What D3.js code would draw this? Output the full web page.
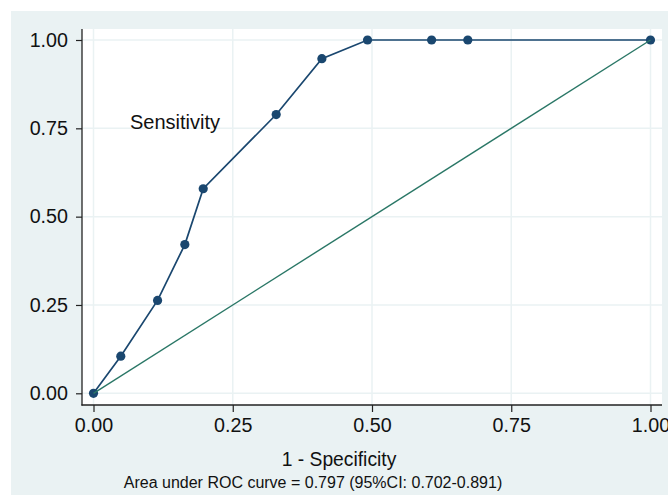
<!DOCTYPE html>
<meta charset="utf-8">
<body style="margin:0;background:#fff">
<svg width="668" height="495"></svg>
<script src="https://cdn.jsdelivr.net/npm/d3@7"></script>
<script>
  // ROC points
  const fpr = [0, 0.049, 0.115, 0.164, 0.197, 0.328, 0.410, 0.492, 0.607, 0.672, 1];
  const sens = [0, 0.105, 0.263, 0.421, 0.579, 0.789, 0.947, 1, 1, 1, 1];
  const ticks = [0, 0.25, 0.5, 0.75, 1];
  const refLine = [[0, 0], [1, 1]];

  const svg = d3.select("svg");
  const font = "'Liberation Sans', Arial, sans-serif";

  // outer graph region
  svg.append("rect").attr("x", 11).attr("y", 11).attr("width", 657).attr("height", 484)
    .attr("fill", "#eaf2f3");
  // plot region
  svg.append("rect").attr("x", 82).attr("y", 29).attr("width", 580).attr("height", 376)
    .attr("fill", "#fff");

  const x = d3.scaleLinear().domain([0, 1]).range([93.5, 650.5]);
  const y = d3.scaleLinear().domain([0, 1]).range([393.3, 40]);

  // grid
  svg.append("g").selectAll("line").data(ticks).join("line")
    .attr("x1", d => x(d)).attr("x2", d => x(d)).attr("y1", 29).attr("y2", 405)
    .attr("stroke", "#eaf2f3").attr("stroke-width", 1.5);
  svg.append("g").selectAll("line").data(ticks).join("line")
    .attr("y1", d => y(d)).attr("y2", d => y(d)).attr("x1", 82).attr("x2", 662)
    .attr("stroke", "#eaf2f3").attr("stroke-width", 1.5);

  // axes
  const yAxis = svg.append("g").attr("transform", "translate(82,0)")
    .call(d3.axisLeft(y).tickValues(ticks).tickFormat(d3.format(".2f")).tickSize(6).tickPadding(8));
  const xAxis = svg.append("g").attr("transform", "translate(0,405)")
    .call(d3.axisBottom(x).tickValues(ticks).tickFormat(d3.format(".2f")).tickSize(7).tickPadding(6));
  [xAxis, yAxis].forEach(a => {
    a.select(".domain").remove();
    a.selectAll("line").attr("stroke", "#222").attr("stroke-width", 1.2);
    a.selectAll("text").attr("font-family", font).attr("font-size", 19.7).attr("fill", "#111");
  });
  svg.append("line").attr("x1", 82).attr("x2", 82).attr("y1", 29).attr("y2", 405.6)
    .attr("stroke", "#222").attr("stroke-width", 1.3);
  svg.append("line").attr("x1", 81.4).attr("x2", 662).attr("y1", 405).attr("y2", 405)
    .attr("stroke", "#222").attr("stroke-width", 1.3);

  // ROC curve
  const pts = fpr.map((f, i) => [f, sens[i]]);
  const line = d3.line().x(d => x(d[0])).y(d => y(d[1]));
  svg.append("path").datum(pts).attr("d", line)
    .attr("fill", "none").attr("stroke", "#1a476f").attr("stroke-width", 1.7);
  svg.append("g").selectAll("circle").data(pts).join("circle")
    .attr("cx", d => x(d[0])).attr("cy", d => y(d[1])).attr("r", 4.6)
    .attr("fill", "#1a476f");

  // reference diagonal
  svg.append("path").datum(refLine).attr("d", line)
    .attr("fill", "none").attr("stroke", "#2a7766").attr("stroke-width", 1.4);

  // titles
  svg.append("text").attr("x", 130).attr("y", 129).attr("font-family", font)
    .attr("font-size", 20).attr("fill", "#111").text("Sensitivity");
  svg.append("text").attr("x", 339).attr("y", 466).attr("text-anchor", "middle")
    .attr("font-family", font).attr("font-size", 19.3).attr("fill", "#111").text("1 - Specificity");
  svg.append("text").attr("x", 313).attr("y", 488).attr("text-anchor", "middle")
    .attr("font-family", font).attr("font-size", 16).attr("fill", "#111")
    .text("Area under ROC curve = 0.797 (95%CI: 0.702-0.891)");
</script>
</body>
